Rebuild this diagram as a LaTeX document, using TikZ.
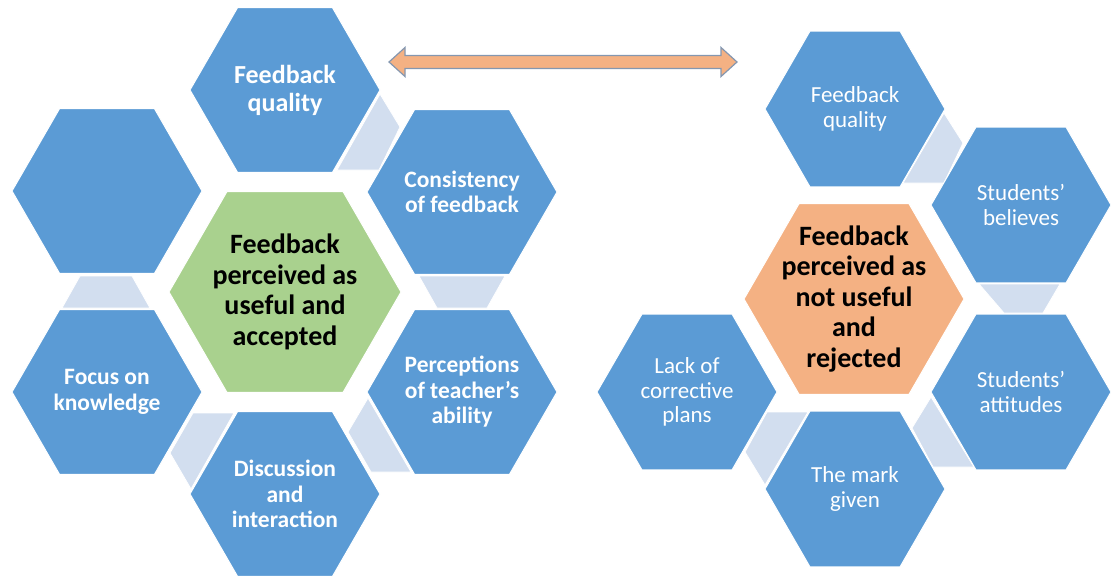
\documentclass[tikz,border=0pt]{standalone}
\usepackage{fontspec}
\setmainfont{Carlito}
\usetikzlibrary{shapes.geometric,calc}

\definecolor{hexblau}{HTML}{5B9BD5}
\definecolor{hexgruen}{HTML}{A9D18E}
\definecolor{hexorange}{HTML}{F4B183}
\definecolor{steghell}{HTML}{D2DEEF}
\definecolor{pfeilrand}{HTML}{8497B0}

\begin{document}
\begin{tikzpicture}[x=1pt, y=-1pt,
    hex/.style={regular polygon, regular polygon sides=6, inner sep=0pt,
        draw=white, line width=1pt, fill=hexblau, minimum size=#1},
    hex/.default=190pt,
    aussen/.style={text=white, align=center,
        font=\bfseries\fontsize{23.5}{25.5}\selectfont},
    aussenR/.style={text=white, align=center,
        font=\fontsize{23}{24.5}\selectfont},
    mitte/.style={text=black, align=center,
        font=\bfseries\fontsize{28}{30.5}\selectfont},
    steg/.style={fill=steghell, draw=white, line width=.8pt},
    blockpfeil/.style={fill=hexorange, draw=pfeilrand, line width=1.2pt}
    ]
    \useasboundingbox (0,0) rectangle (1111,576);

    % Stege hinter den Waben (links)
    \path[steg] (380,94) -- (400,127) -- (379,170) -- (337,170) -- cycle;
    \path[steg] (80,276) -- (132,276) -- (150,308) -- (62,308) -- cycle;
    \path[steg] (419,276) -- (505,276) -- (487,308) -- (437,308) -- cycle;
    \path[steg] (193,413) -- (234,413) -- (191,489) -- (170,453) -- cycle;
    \path[steg] (368,398) -- (411,472) -- (371,472) -- (348,432) -- cycle;

    % Stege hinter den Waben (rechts)
    \path[steg] (944,113) -- (963,143) -- (944,183) -- (903,183) -- cycle;
    \path[steg] (979,284) -- (1060,284) -- (1043,313) -- (1004,313) -- cycle;
    \path[steg] (767,412) -- (808,412) -- (765,485) -- (745,452) -- cycle;
    \path[steg] (931,397) -- (974,467) -- (933,467) -- (912,428) -- cycle;

    % Waben links
    \node[hex, label={[aussen, font=\bfseries\fontsize{26}{28}\selectfont]center:Feedback\\quality}] (qualL) at (285,90) {};
    \node[hex] (leer) at (107,191) {};
    \node[hex, label={[aussen]center:Consistency\\of feedback}] (konsist) at (462,192) {};
    \node[hex=232pt, fill=hexgruen, label={[mitte]center:Feedback\\perceived as\\useful and\\accepted}] (akzept) at (285,292) {};
    \node[hex, label={[aussen]center:Focus on\\knowledge}] (wissen) at (107,392) {};
    \node[hex, label={[aussen]center:Perceptions\\of teacher’s\\ability}] (faehig) at (462,392) {};
    \node[hex, label={[aussen]center:Discussion\\and\\interaction}] (diskus) at (285,494) {};

    % Waben rechts
    \node[hex=180pt, label={[aussenR]center:Feedback\\quality}] (qualR) at (855,109) {};
    \node[hex=180pt, label={[aussenR]center:Students’\\believes}] (glaube) at (1021,205) {};
    \node[hex=220pt, fill=hexorange, label={[mitte]center:Feedback\\perceived as\\not useful\\and\\rejected}] (abgel) at (854,299) {};
    \node[hex=180pt, label={[aussenR]center:Lack of\\corrective\\plans}] (plaene) at (687,392) {};
    \node[hex=180pt, label={[aussenR]center:Students’\\attitudes}] (haltung) at (1021,392) {};
    \node[hex=180pt, label={[aussenR]center:The mark\\given}] (note) at (855,489) {};

    % Doppelpfeil
    \coordinate (pfeilL) at (389,62);
    \coordinate (pfeilR) at (737,62);
    \draw[blockpfeil] (pfeilL) -- ++(16,-14.5) -- ++(0,8) -- ($(pfeilR)+(-16,-6.5)$)
        -- ++(0,-8) -- (pfeilR) -- ++(-16,14.5) -- ++(0,-8)
        -- ($(pfeilL)+(16,6.5)$) -- ++(0,8) -- cycle;
\end{tikzpicture}
\end{document}
